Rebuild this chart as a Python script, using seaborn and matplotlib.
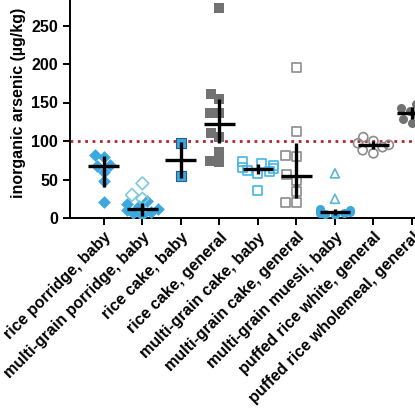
import numpy as np
import pandas as pd
import matplotlib
matplotlib.use("Agg")
import matplotlib.pyplot as plt
import seaborn as sns

categories = ["rice porridge, baby", "multi-grain porridge, baby", "rice cake, baby",
              "rice cake, general", "multi-grain cake, baby", "multi-grain cake, general",
              "multi-grain muesli, baby", "puffed rice white, general",
              "puffed rice wholemeal, general"]

# individual samples (µg/kg)
rice_porridge_baby = [82, 79, 69, 68, 60, 48, 21]
mg_porridge_baby = [22, 18, 15, 12, 10, 8, 6, 4]
mg_porridge_baby_extra = [45, 30, 25]
rice_cake_baby = [97, 55]
rice_cake_general = [273, 161, 155, 137, 137, 111, 105, 86, 74, 73]
mg_cake_baby = [74, 71, 68, 66, 64, 62, 60, 58, 36]
mg_cake_general = [195, 112, 81, 80, 56, 49, 34, 20, 20]
mg_muesli_baby = [12, 10, 9, 8, 7, 6, 5, 4]
mg_muesli_baby_extra = [58, 25]
puffed_white = [105, 100, 97, 95, 92, 88, 84]
puffed_wholemeal = [148, 143, 139, 136, 133, 129, 124]

# centre line and vertical bar of each cross
centre = [67, 12, 75, 122, 63, 55, 8, 95, 136]
low = [40, 2, 52, 97, 57, 26, 4, 90, 128]
high = [80, 19, 99, 155, 70, 97, 12, 100, 144]

limit = 100

blue = "#3da8e0"
teal = "#7fcad6"
grey = "#727272"
lgrey = "#8c8c8c"

# (category, values, marker, colour, hollow)
groups = [
    (0, rice_porridge_baby, "D", blue, False),
    (1, mg_porridge_baby, "D", blue, False),
    (1, mg_porridge_baby_extra, "D", teal, True),
    (2, rice_cake_baby, "s", blue, False),
    (3, rice_cake_general, "s", grey, False),
    (4, mg_cake_baby, "s", "#45b6e6", True),
    (5, mg_cake_general, "s", lgrey, True),
    (6, mg_muesli_baby, "o", blue, False),
    (6, mg_muesli_baby_extra, "^", "#5bb8d3", True),
    (7, puffed_white, "o", lgrey, True),
    (8, puffed_wholemeal, "o", grey, False),
]

sns.set_style("ticks")
plt.rcParams["font.family"] = ["Liberation Sans", "DejaVu Sans"]
plt.rcParams["font.weight"] = "bold"
for k in ["text.color", "axes.labelcolor", "xtick.color", "ytick.color"]:
    plt.rcParams[k] = "black"

fig = plt.figure(figsize=(4.15, 4.09), dpi=100)
ax = fig.add_axes([70 / 415, (409 - 218) / 409, 345 / 415, 231 / 409])

for cat, vals, mk, col, hollow in groups:
    df = pd.DataFrame({"food": [categories[cat]] * len(vals), "arsenic": vals})
    n0 = len(ax.collections)
    sns.swarmplot(data=df, x="food", y="arsenic", order=categories, marker=mk,
                  color=col, size=6.5, linewidth=0, warn_thresh=1, ax=ax)
    for c in ax.collections[n0:]:
        if hollow:
            c.set_facecolor("none")
            c.set_edgecolor(col)
            c.set_linewidth(1.2)
        elif col == blue and mk == "s":
            c.set_edgecolor("#1f5f8a")
            c.set_linewidth(0.8)

ax.axhline(limit, color="#b3262c", ls=":", lw=2, zorder=1)

pos = np.arange(len(categories))
c = np.array(centre)
ax.errorbar(pos, c, yerr=[c - np.array(low), np.array(high) - c], xerr=0.4,
            fmt="none", ecolor="black", elinewidth=2.4, capsize=0, zorder=5)

ax.set_ylim(0, 300)
ax.set_xlim(-0.88, 8.08)
ax.set_yticks(range(0, 301, 50))
ax.set_ylabel("inorganic arsenic (µg/kg)", fontsize=11.5, fontweight="bold", labelpad=4)
ax.set_xlabel("")
ax.tick_params(axis="both", labelsize=11.5, width=1.4, length=5, color="black")
for lab in ax.get_xticklabels():
    lab.set_rotation(45)
    lab.set_ha("right")
    lab.set_rotation_mode("anchor")
    lab.set_fontweight("bold")
for lab in ax.get_yticklabels():
    lab.set_fontweight("bold")
for s in ["left", "bottom"]:
    ax.spines[s].set_linewidth(1.4)
    ax.spines[s].set_color("black")
sns.despine(ax=ax)

fig.savefig("out.png", dpi=100)
